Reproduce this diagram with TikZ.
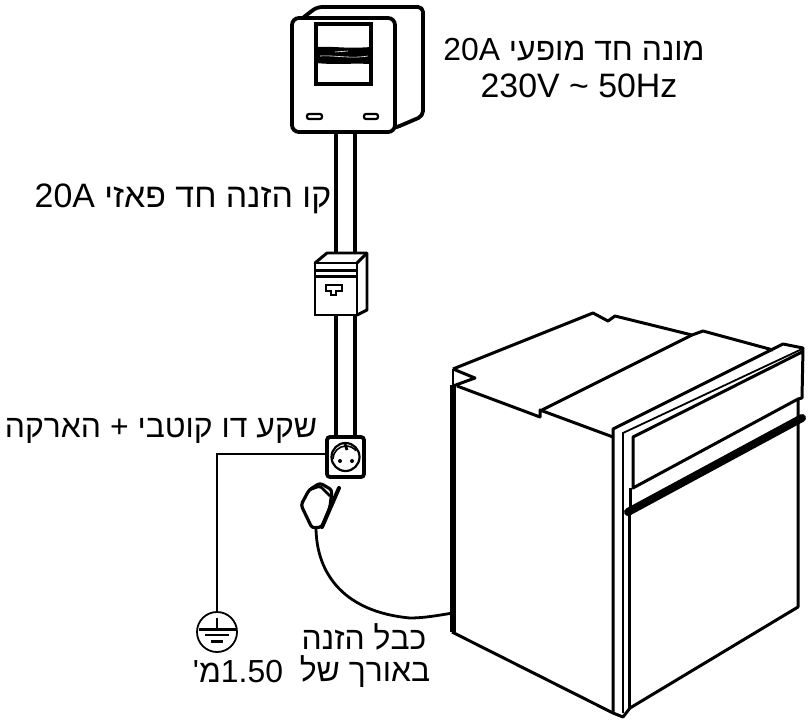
\documentclass[tikz,border=0pt]{standalone}
\usepackage{fontspec}
\newfontfamily\plainfont{Liberation Sans}
\TeXXeTstate=1
\usetikzlibrary{calc}
\tikzset{
  lbl/.style={font=\plainfont\fontsize{32}{36}\selectfont, inner sep=0pt, align=center},
  big lbl/.style={lbl, font=\plainfont\fontsize{34}{38}\selectfont},
  thick line/.style={line width=3.8pt, line join=round, line cap=round},
  mid line/.style={line width=3pt, line join=miter},
  thin line/.style={line width=1.8pt},
  pipeA/.style={line width=4.5pt},
  pipeB/.style={line width=3.5pt},
  wire/.style={line width=2.8pt},
  box/.style={draw, fill=white, inner sep=0pt, line width=3.8pt}
}
\begin{document}
\begin{tikzpicture}[x=1bp,y=-1bp]
\useasboundingbox (0,0) rectangle (812,726);
% meter back
\draw[thick line, fill=white, rounded corners=5pt] (300,20) -- (317,7) -- (423,7) -- (423,116) -- (395,128) -- (380,128) -- (300,100) -- cycle;
\node[box, rounded corners=7pt, minimum width=103bp, minimum height=114bp] (meter) at (343.5,75) {};
\node[draw, inner sep=0pt, line width=3.6pt, minimum width=55bp, minimum height=60bp] (window) at (343.5,54) {};
\fill (316,47) .. controls (335,46) and (345,49) .. (371,47) -- (371,64) .. controls (350,63) and (335,65) .. (316,63) -- cycle;
\draw[white, line width=0.6pt] (320,56) .. controls (335,55) and (350,59) .. (368,56);
\draw[white, line width=0.6pt] (335,52) -- (348,51);
\draw[line width=2.2pt, rounded corners=2pt] (307,114) rectangle (322,119);
\draw[line width=2.2pt, rounded corners=2pt] (364,114) rectangle (378,119);
% breaker box
\draw[mid line, fill=white, line join=round] (315,263) -- (327,253) -- (367,253) -- (367,310) -- (357,315) -- cycle;
\draw[mid line] (357,263) -- (367,253);
\node[draw, fill=white, inner sep=0pt, line width=3pt, minimum width=42bp, minimum height=52bp] (breaker) at (336,289) {};
\draw[line width=3pt] (breaker.north west) ++(0,9) -- ++(42,0);
\draw[line width=3pt] (breaker.north west) ++(0,15) -- ++(42,0);
\draw[line width=2.2pt] (326,285) -- (342,285) -- (342,291) -- (336,291) -- (336,295) -- (331,295) -- (331,291) -- (326,291) -- cycle;
% pipes
\draw[pipeA] (336,0 |- meter.south) -- (336,253);
\draw[pipeB] (355,0 |- meter.south) -- (355,253);
% socket
\node[box, rounded corners=3pt, minimum width=37bp, minimum height=40bp] (socket) at (345.5,457) {};
\draw[pipeA] (336,0 |- breaker.south) -- (336,0 |- socket.north);
\draw[pipeB] (355,0 |- breaker.south) -- (355,0 |- socket.north);
\draw[line width=2.2pt] (socket.center) circle (14);
\draw[line width=1.6pt] (333,459) arc (180:320:13);
\draw[line width=2.8pt] (345,444) -- (347,450);
\fill (340,461) circle (2) (352,461) circle (2);
% ground
\node[draw, circle, inner sep=0pt, line width=1.8pt, minimum size=40bp] (ground) at (217,632) {};
\draw[wire] ($(socket.west)+(0,-3)$) -| (ground.north);
\draw[line width=2.2pt] (217,618) -- (217,629);
\draw[line width=3pt] (199,629) -- (236,629);
\draw[line width=2.2pt] (205,635) -- (229,635);
\draw[line width=3pt] (211,641) -- (223,641);
% plug
\draw[line width=3.2pt, line join=round, fill=white, rounded corners=3pt] (301,505) -- (309,490) -- (320,483) -- (332,490) -- (330,507) -- (322,527) -- (312,528) -- cycle;
\draw[line width=2.8pt, rounded corners=2pt] (309,490) -- (320,486) -- (330,496);
\draw[line width=4pt, line cap=round] (339,488) -- (322,527);
% oven
\coordinate (ovencable) at (453,613);
\draw[line width=2.8pt] (316,529) .. controls (317,575) and (345,612) .. (410,618) .. controls (425,618) and (440,615) .. (ovencable);
\draw[mid line, line join=round] (453,369) -- (593,313) -- (608,321) -- (615,316) -- (692,335) -- (703,331) -- (773,350);
\draw[mid line, line join=round] (692,335) -- (542,410);
\draw[mid line, line join=round] (453,369) -- (475,378) -- (453,386);
\draw[mid line, line join=round] (457,386) -- (540,417) -- (540,410) -- (613,437);
\draw[line width=2.6pt] (453,369) -- (453,386);
\draw[line width=5.5pt] (453,385) -- (453,632);
\draw[mid line, line join=round] (452,632) -- (613,713) -- (623,717) -- (630,708) -- (798,607) -- (798,399);
\draw[mid line, line join=round] (613,713) -- (613,429) -- (783,344) -- (803,348) -- (802,398) -- (798,399) -- (633,488) -- (633,437) -- (802,352);
\draw[thin line] (623,713) -- (623,433) -- (802,349);
\draw[mid line] (630,488) -- (630,512);
\draw[mid line] (629.5,512) -- (629.5,708);
\draw[line width=8pt, line cap=round] (628,512) -- (802,418);
% labels
\node[lbl] (t1) at (574,50) {\beginR מונה חד מופעי \beginL 20A\endL\endR};
\node[big lbl] (t2) at (579,86) {230V \char"007E{} 50Hz};
\node[big lbl] (t3) at (183,199) {\beginR קו הזנה חד פאזי \beginL 20A\endL\endR};
\node[lbl] (t4) at (161,431) {\beginR שקע דו קוטבי + הארקה\endR};
\node[lbl] (t5) at (364,637) {\beginR כבל הזנה\endR};
\node[lbl] (t6) at (365,672) {\beginR באורך של\endR};
\node[lbl] (t7) at (238,672) {\beginR \beginL 1.50\endL מ'\endR};
\end{tikzpicture}
\end{document}
